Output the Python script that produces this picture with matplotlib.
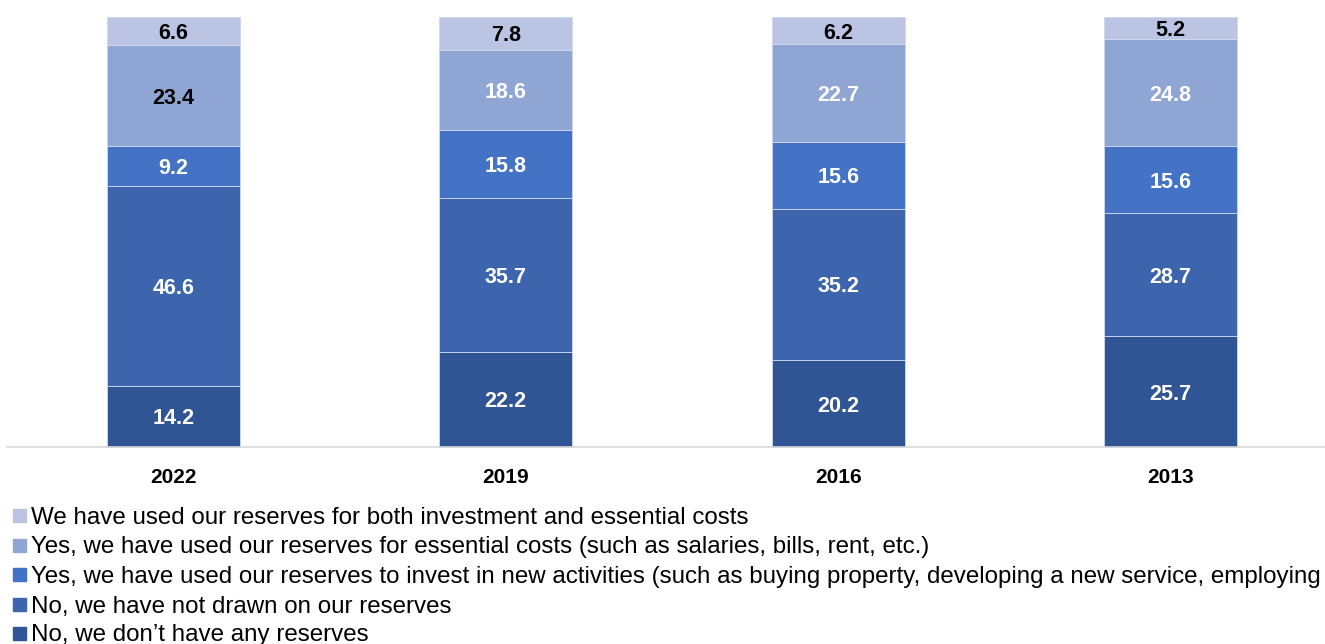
import numpy as np
from matplotlib import pyplot as plt
from matplotlib.patches import Rectangle

plt.rcParams['font.family'] = ['Liberation Sans', 'DejaVu Sans']

years = ['2022', '2019', '2016', '2013']
# слои снизу вверх
no_reserves = [14.2, 22.2, 20.2, 25.7]
not_drawn = [46.6, 35.7, 35.2, 28.7]
invest = [9.2, 15.8, 15.6, 15.6]
essential = [23.4, 18.6, 22.7, 24.8]
both = [6.6, 7.8, 6.2, 5.2]

series = [no_reserves, not_drawn, invest, essential, both]
labels = [
    'No, we don\u2019t have any reserves',
    'No, we have not drawn on our reserves',
    'Yes, we have used our reserves to invest in new activities (such as buying property, developing a new service, employing',
    'Yes, we have used our reserves for essential costs (such as salaries, bills, rent, etc.)',
    'We have used our reserves for both investment and essential costs',
]
colors = ['#2F5594', '#3C65AE', '#4472C4', '#8FA5D4', '#BCC4E4']
# цвет подписей в каждом сегменте
text_colors = [
    ['white'] * 4,
    ['white'] * 4,
    ['white'] * 4,
    ['black', 'white', 'white', 'white'],
    ['black'] * 4,
]

W, H = 1325, 644
fig = plt.figure(figsize=(W / 100, H / 100), dpi=100)
ax = fig.add_axes([7 / W, 1 - 447 / H, 1330 / W, 430 / H])

x = np.arange(len(years))
bottom = np.zeros(len(years))
for vals, col, tcols in zip(series, colors, text_colors):
    vals = np.array(vals)
    ax.bar(x, vals, 0.4, bottom=bottom, color=col, edgecolor='#d0d8ee',
           linewidth=0.6, clip_on=False)
    for i in range(len(years)):
        ax.text(x[i], bottom[i] + vals[i] / 2, f'{vals[i]:.1f}', ha='center',
                va='center_baseline', fontsize=15.5, fontweight='bold',
                color=tcols[i])
    bottom += vals

ax.set_xlim(-0.5, 3.5)
ax.set_ylim(0, 100)
for s in ['top', 'right', 'left']:
    ax.spines[s].set_visible(False)
ax.spines['bottom'].set_color('#d9d9d9')
ax.spines['bottom'].set_linewidth(1.2)
ax.set_yticks([])
ax.set_xticks(x)
ax.set_xticklabels(years, fontsize=15, fontweight='bold')
ax.tick_params(axis='x', length=0, pad=15)

# легенда вручную, сверху вниз
ys = [515, 545, 574, 604, 633]
for k, y in enumerate(ys):
    idx = len(series) - 1 - k
    fig.patches.append(Rectangle((13 / W, 1 - (y + 6.5) / H), 13 / W, 13 / H,
                                 transform=fig.transFigure, color=colors[idx]))
    fig.text(31 / W, 1 - y / H, labels[idx], fontsize=17.4,
             va='center_baseline', ha='left', color='black')

plt.savefig('out.png', dpi=100)
